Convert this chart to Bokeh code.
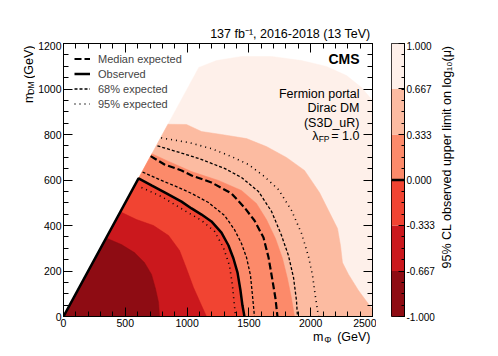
import math
from bokeh.plotting import figure
from bokeh.layouts import row, column
from bokeh.models import (Label, Legend, LegendItem, LinearAxis, FixedTicker,
                          PrintfTickFormatter, Range1d)
from bokeh.embed import file_html
from bokeh.resources import INLINE

FONT = "Liberation Sans"

# ---------------- data ----------------
x_ticks = [0, 500, 1000, 1500, 2000, 2500]
y_ticks = [0, 200, 400, 600, 800, 1000, 1200]

# colour levels of the z axis (log10 of the observed upper limit on mu)
z_levels = [-1.0, -0.667, -0.333, 0.0, 0.333, 0.667, 1.0]
z_colors = ["#8e0c13", "#cb181d", "#f14432", "#fc8a6a", "#fcbba1", "#fef0ea"]

# contour boundaries, (m_Phi, m_DM) in GeV
c_p1000_x = [1095, 1238, 1440, 1683, 1926, 2128, 2290, 2411, 2500]
c_p1000_y = [1095, 1125, 1143, 1143, 1125, 1099, 1059, 1007, 949]
c_p0667_x = [845, 995, 1117, 1278, 1481, 1642, 1804, 1950, 2071, 2144, 2217, 2241, 2257, 2306, 2387, 2500]
c_p0667_y = [845, 844, 813, 800, 782, 747, 699, 642, 545, 466, 387, 312, 237, 185, 114, 31]
c_p0333_x = [715, 833, 1036, 1254, 1440, 1561, 1642, 1715, 1772, 1812, 1845, 1869]
c_p0333_y = [715, 686, 637, 598, 554, 497, 426, 343, 255, 167, 79, 0]
obs_x = [0, 607, 712, 833, 955, 1036, 1117, 1197, 1278, 1335, 1375, 1408, 1432, 1448, 1464]
obs_y = [0, 607, 576, 541, 505, 475, 448, 418, 369, 312, 255, 193, 114, 48, 0]
c_m0333_x = [460, 591, 728, 850, 939, 995, 1052, 1117, 1157]
c_m0333_y = [460, 426, 400, 356, 290, 211, 127, 48, 0]
c_m0667_x = [345, 469, 574, 655, 712, 744, 769, 777]
c_m0667_y = [345, 316, 281, 237, 185, 123, 62, 0]

# expected limits
exp_med_x = [705, 817, 955, 1036, 1197, 1359, 1464, 1545, 1618, 1659, 1691, 1715, 1731]
exp_med_y = [705, 668, 642, 620, 589, 541, 479, 422, 347, 259, 158, 79, 0]
exp68_out_x = [760, 914, 1092, 1303, 1440, 1578, 1683, 1764, 1820, 1861, 1885, 1893]
exp68_out_y = [750, 725, 695, 651, 611, 549, 462, 356, 268, 171, 70, 0]
exp68_in_x = [640, 793, 914, 1036, 1173, 1303, 1383, 1440, 1481, 1513, 1529, 1545]
exp68_in_y = [635, 598, 571, 541, 501, 444, 382, 321, 259, 180, 92, 0]
exp95_out_x = [790, 1011, 1197, 1359, 1497, 1626, 1739, 1845, 1926, 1982, 2015, 2039, 2063]
exp95_out_y = [785, 765, 738, 703, 668, 615, 558, 466, 365, 264, 180, 84, 0]
exp95_in_x = [631, 793, 979, 1117, 1222, 1294, 1343, 1367, 1383, 1392]
exp95_in_y = [567, 527, 466, 422, 374, 303, 224, 136, 48, 0]

# ---------------- layout constants (window pixels) ----------------
X0, X1, Y0, Y1 = 0, 2500, 0, 1200
FL, FT, FW, FH = 62, 43, 309, 273      # frame left / top / width / height
TOP_AX = 2                              # room taken by the label-less top axis
YL_W = 35                               # y-title strip width
P_LEFT = FL - YL_W
P_RIGHT = 4
P_BOTTOM = 14
ROW_TOP = FT - TOP_AX
ROW_H = TOP_AX + FH + P_BOTTOM
ROW_BOTTOM = ROW_TOP + ROW_H
CB_LEFT, CB_W, CB_RIGHT = 15, 13, 34
ZL_W = 40
TOTAL_W = 470
XL_H = 356 - ROW_BOTTOM
CB_X = FL + FW + P_RIGHT + CB_LEFT
ZL_X = CB_X + CB_W + CB_RIGHT
rot = math.pi / 2


def fx(px):
    return X0 + (px - FL) * (X1 - X0) / FW


def fy(py):
    return Y0 + (FT + FH - py) * (Y1 - Y0) / FH


def lab(fig, x, y, text, size, align="right", angle=0.0, style="normal"):
    fig.add_layout(Label(x=x, y=y, text=text, text_align=align, text_baseline="middle",
                         angle=angle, text_font=FONT, text_font_size=size,
                         text_font_style=style, text_color="black"))


def strip(w, h):
    f = figure(x_range=Range1d(0, w), y_range=Range1d(0, h), frame_width=w, frame_height=h,
               min_border=0, x_axis_type=None, y_axis_type=None,
               output_backend="svg", toolbar_location=None)
    f.outline_line_color = None
    f.xgrid.visible = False
    f.ygrid.visible = False
    f.background_fill_color = "white"
    f.border_fill_color = "white"
    return f


# ---------------- main plot ----------------
p = figure(x_range=Range1d(X0, X1), y_range=Range1d(Y0, Y1),
           frame_width=FW, frame_height=FH,
           min_border_left=P_LEFT, min_border_right=P_RIGHT, min_border_top=0,
           min_border_bottom=P_BOTTOM,
           output_backend="svg", toolbar_location=None)
p.xgrid.visible = False
p.ygrid.visible = False
p.outline_line_color = "black"
p.outline_line_width = 1
p.background_fill_color = "white"
p.border_fill_color = "white"

# filled regions: region below each level, drawn from lightest to darkest
curves = [(c_p1000_x, c_p1000_y), (c_p0667_x, c_p0667_y), (c_p0333_x, c_p0333_y),
          (obs_x, obs_y), (c_m0333_x, c_m0333_y), (c_m0667_x, c_m0667_y)]
fill_cols = z_colors[::-1]
for (cx, cy), col in zip(curves, fill_cols):
    xs = [X0] + list(cx)
    ys = [Y0] + list(cy)
    if cy[-1] > Y0:
        xs.append(cx[-1])
        ys.append(Y0)
    p.patch(xs, ys, fill_color=col, line_color=col, line_width=0.5)

r95a = p.line(exp95_out_x, exp95_out_y, line_color="black", line_width=1.6, line_dash="1 4")
r95b = p.line(exp95_in_x, exp95_in_y, line_color="black", line_width=1.6, line_dash="1 4")
r68a = p.line(exp68_out_x, exp68_out_y, line_color="black", line_width=1.3, line_dash="3 2")
r68b = p.line(exp68_in_x, exp68_in_y, line_color="black", line_width=1.3, line_dash="3 2")
rmed = p.line(exp_med_x, exp_med_y, line_color="black", line_width=2.2, line_dash="7 3")
robs = p.line(obs_x, obs_y, line_color="black", line_width=2.5)

x_minor = [v for v in range(X0, X1 + 1, 100)]
y_minor = [v for v in range(Y0, Y1 + 1, 50)]


def style_axis(ax, ticks, show_labels=True, standoff=3):
    ax.major_tick_in = 9
    ax.major_tick_out = 0
    ax.minor_tick_in = 5
    ax.minor_tick_out = 0
    ax.axis_line_color = "black"
    ax.major_tick_line_color = "black"
    ax.minor_tick_line_color = "black"
    ax.major_label_text_font = FONT
    ax.major_label_text_color = "black"
    ax.major_label_text_font_size = "10.5px"
    ax.major_label_standoff = standoff
    ax.axis_label = None
    ax.axis_label_standoff = 0
    if not show_labels:
        ax.major_label_overrides = {t: "" for t in ticks}
        ax.major_label_standoff = 0


p.xaxis.ticker = FixedTicker(ticks=x_ticks, minor_ticks=x_minor)
p.yaxis.ticker = FixedTicker(ticks=y_ticks, minor_ticks=y_minor)
style_axis(p.xaxis[0], x_ticks, standoff=2)
style_axis(p.yaxis[0], y_ticks, standoff=2)
top_ax = LinearAxis(ticker=FixedTicker(ticks=x_ticks, minor_ticks=x_minor))
right_ax = LinearAxis(ticker=FixedTicker(ticks=y_ticks, minor_ticks=y_minor))
style_axis(top_ax, x_ticks, False)
style_axis(right_ax, y_ticks, False)
p.add_layout(top_ax, "above")
p.add_layout(right_ax, "right")

legend = Legend(items=[LegendItem(label="Median expected", renderers=[rmed]),
                       LegendItem(label="Observed", renderers=[robs]),
                       LegendItem(label="68% expected", renderers=[r68a]),
                       LegendItem(label="95% expected", renderers=[r95a])],
                location=(11, 205), orientation="vertical",
                glyph_width=16, glyph_height=15, label_height=15, spacing=0,
                padding=0, margin=0, label_standoff=8,
                label_text_font=FONT, label_text_font_size="11px",
                border_line_color=None, background_fill_alpha=0)
p.add_layout(legend)

lab(p, fx(358), fy(58), "CMS", "14px", style="bold")
lab(p, fx(358), fy(93), "Fermion portal", "12.5px")
lab(p, fx(358), fy(107), "Dirac DM", "12.5px")
lab(p, fx(358), fy(122), "(S3D_uR)", "12.5px")
lab(p, fx(358), fy(135), "= 1.0", "12.5px")
lab(p, fx(328), fy(138), "FP", "8.5px")
lab(p, fx(317), fy(135), "\u03bb", "12.5px")

# ---------------- colour bar ----------------
cb = figure(x_range=Range1d(0, 1), y_range=Range1d(z_levels[0], z_levels[-1]),
            frame_width=CB_W, frame_height=FH, x_axis_type=None, y_axis_location="right",
            min_border_left=CB_LEFT, min_border_right=CB_RIGHT, min_border_top=TOP_AX,
            min_border_bottom=P_BOTTOM,
            output_backend="svg", toolbar_location=None)
cb.xgrid.visible = False
cb.ygrid.visible = False
cb.outline_line_color = "black"
cb.border_fill_color = "white"
cb.quad(left=0, right=1, bottom=z_levels[:-1], top=z_levels[1:],
        fill_color=z_colors, line_color=None)
cb.line([0, 1], [0.0, 0.0], line_color="black", line_width=2.5)
cax = cb.yaxis[0]
cax.ticker = FixedTicker(ticks=z_levels,
                         minor_ticks=[z_levels[0] + k * (z_levels[-1] - z_levels[0]) / 24 for k in range(25)])
cax.formatter = PrintfTickFormatter(format="%.3f")
cax.major_tick_in = 6
cax.major_tick_out = 0
cax.minor_tick_in = 3
cax.minor_tick_out = 0
cax.axis_line_color = "black"
cax.major_label_text_font = FONT
cax.major_label_text_font_size = "10px"
cax.major_label_text_color = "black"
cax.major_label_standoff = 2
cax.axis_label = None
cax.axis_label_standoff = 0

# ---------------- text strips ----------------
top_strip = strip(TOTAL_W, ROW_TOP)
lab(top_strip, 370, ROW_TOP - 33, "137 fb\u207b\u00b9, 2016-2018 (13 TeV)", "12.5px")

yl_strip = strip(YL_W, ROW_H)
lab(yl_strip, 28.5, ROW_BOTTOM - 43, "(GeV)", "12.5px", angle=rot)
lab(yl_strip, 30, ROW_BOTTOM - 79, "DM", "8.5px", angle=rot)
lab(yl_strip, 28.5, ROW_BOTTOM - 90, "m", "12.5px", angle=rot)

zl_strip = strip(ZL_W, ROW_H)
lab(zl_strip, 445 - ZL_X, ROW_BOTTOM - 43,
    "95% CL observed upper limit on log\u2081\u2080(\u03bc)", "12.5px", angle=rot)

xl_strip = strip(TOTAL_W, XL_H)
lab(xl_strip, 370, 356 - 336.5, "(GeV)", "12.5px")
lab(xl_strip, 331, 356 - 339.5, "\u03a6", "9px")
lab(xl_strip, 323, 356 - 336.5, "m", "12.5px")

layout = column(top_strip, row(yl_strip, p, cb, zl_strip), xl_strip)
open("out.html", "w").write(file_html(layout, INLINE))
